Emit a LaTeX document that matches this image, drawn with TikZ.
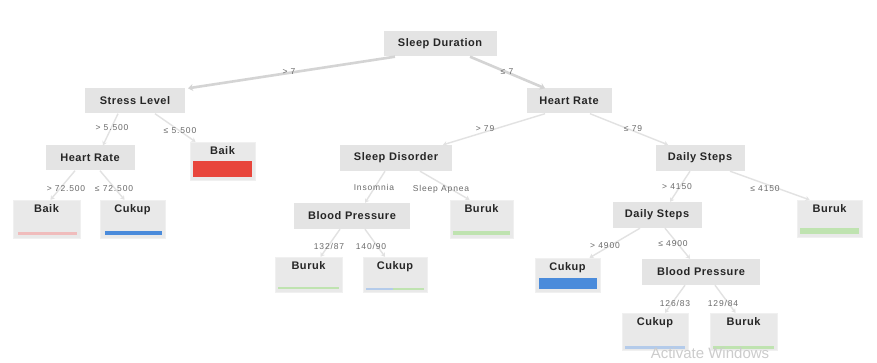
\documentclass[tikz,border=0pt]{standalone}
\usepackage{fontspec}
\setmainfont{Liberation Sans}
\newfontfamily\nodefont[LetterSpace=5]{Liberation Sans}
\newfontfamily\lblfont[LetterSpace=10]{Liberation Sans}
\usetikzlibrary{arrows.meta}
\definecolor{boxgray}{HTML}{E4E4E4}
\definecolor{leafgray}{HTML}{E9E9E9}
\definecolor{edgegray}{HTML}{D4D4D4}
\definecolor{thingray}{HTML}{E2E2E2}
\definecolor{lblgray}{HTML}{6A6A6A}
\definecolor{barred}{HTML}{E8463C}
\definecolor{barblue}{HTML}{4A8BDB}
\definecolor{barpink}{HTML}{F0BCBC}
\definecolor{bargreen}{HTML}{BFE3B0}
\definecolor{barlblue}{HTML}{B4CBEA}
\newcommand{\leafbar}[4]{%
  \fill[#2] ([xshift=#4pt,yshift=3pt]#1.south west) rectangle ([xshift=-3pt,yshift=#3]#1.south east);}
\begin{document}
\begin{tikzpicture}[x=1pt,y=-1pt,
  splitbox/.style={rectangle,fill=boxgray,inner sep=0pt,minimum height=25pt,
    font=\nodefont\bfseries\fontsize{11}{13}\selectfont,text=black!85},
  leafbox/.style={rectangle,fill=leafgray,draw=black!6,inner sep=0pt},
  leaftext/.style={font=\nodefont\bfseries\fontsize{11}{13}\selectfont,text=black!85,inner sep=0pt},
  edge/.style={draw=edgegray,line width=2.6pt,-{Stealth[length=5pt,width=7pt]}},
  thinedge/.style={draw=thingray,line width=1.4pt,-{Stealth[length=4pt,width=5pt]}},
  elabel/.style={font=\lblfont\fontsize{8.5}{10}\selectfont,text=lblgray,inner sep=1pt}]
\useasboundingbox (0,0) rectangle (877,363);
\fill[white] (0,0) rectangle (877,363);

% split nodes
\node[splitbox,minimum width=113pt] (sd) at (440,44) {Sleep Duration};
\node[splitbox,minimum width=100pt] (sl) at (135,101) {Stress Level};
\node[splitbox,minimum width=85pt] (hrr) at (569,101) {Heart Rate};
\node[splitbox,minimum width=89pt] (hrl) at (90,158) {Heart Rate};
\node[splitbox,minimum width=112pt,minimum height=26pt] (sdis) at (396,158) {Sleep Disorder};
\node[splitbox,minimum width=89pt,minimum height=26pt] (ds1) at (700,158) {Daily Steps};
\node[splitbox,minimum width=116pt,minimum height=26pt] (bp1) at (352,216) {Blood Pressure};
\node[splitbox,minimum width=89pt,minimum height=26pt] (ds2) at (657,215) {Daily Steps};
\node[splitbox,minimum width=118pt,minimum height=26pt] (bp2) at (701,272) {Blood Pressure};

% leaf nodes
\node[leafbox,minimum width=65pt,minimum height=38pt] (baikR) at (222.5,161) {};
\node[leafbox,minimum width=67pt,minimum height=38pt] (baikL) at (46.5,219) {};
\node[leafbox,minimum width=65pt,minimum height=38pt] (cukL) at (132.5,219) {};
\node[leafbox,minimum width=63pt,minimum height=38pt] (burSA) at (481.5,219) {};
\node[leafbox,minimum width=65pt,minimum height=37pt] (burFR) at (829.5,218.5) {};
\node[leafbox,minimum width=67pt,minimum height=35pt] (bur1) at (308.5,274.5) {};
\node[leafbox,minimum width=64pt,minimum height=35pt] (cuk1) at (395,274.5) {};
\node[leafbox,minimum width=65pt,minimum height=34pt] (cukB) at (567.5,275) {};
\node[leafbox,minimum width=66pt,minimum height=37pt] (cukBot) at (655,331.5) {};
\node[leafbox,minimum width=67pt,minimum height=37pt] (burBot) at (743.5,331.5) {};

\node[leaftext,anchor=north] (tbaikR) at ([yshift=-5pt]baikR.north) {Baik};
\node[leaftext,anchor=north] (tbaikL) at ([yshift=-5pt]baikL.north) {Baik};
\node[leaftext,anchor=north] (tcukL) at ([yshift=-5pt]cukL.north) {Cukup};
\node[leaftext,anchor=north] (tburSA) at ([yshift=-5pt]burSA.north) {Buruk};
\node[leaftext,anchor=north] (tburFR) at ([yshift=-5pt]burFR.north) {Buruk};
\node[leaftext,anchor=north] (tbur1) at ([yshift=-5pt]bur1.north) {Buruk};
\node[leaftext,anchor=north] (tcuk1) at ([yshift=-5pt]cuk1.north) {Cukup};
\node[leaftext,anchor=north] (tcukB) at ([yshift=-5pt]cukB.north) {Cukup};
\node[leaftext,anchor=north] (tcukBot) at ([yshift=-5pt]cukBot.north) {Cukup};
\node[leaftext,anchor=north] (tburBot) at ([yshift=-5pt]burBot.north) {Buruk};

% class bars
\leafbar{baikR}{barred}{19pt}{3}
\leafbar{baikL}{barpink}{6pt}{5}
\leafbar{cukL}{barblue}{7pt}{5}
\leafbar{burSA}{bargreen}{7pt}{3}
\leafbar{burFR}{bargreen}{9pt}{3}
\leafbar{bur1}{bargreen}{5pt}{3}
\fill[barlblue] ([xshift=3pt,yshift=2pt]cuk1.south west) rectangle ([xshift=30pt,yshift=4pt]cuk1.south west);
\fill[bargreen] ([xshift=30pt,yshift=2pt]cuk1.south west) rectangle ([xshift=-3pt,yshift=4pt]cuk1.south east);
\leafbar{cukB}{barblue}{14pt}{4}
\fill[barlblue] ([xshift=3pt,yshift=1pt]cukBot.south west) rectangle ([xshift=-3pt,yshift=4pt]cukBot.south east);
\fill[bargreen] ([xshift=3pt,yshift=1pt]burBot.south west) rectangle ([xshift=-3pt,yshift=4pt]burBot.south east);

% connectors
\draw[edge] ([xshift=-45pt]sd.south) -- ([xshift=53pt]sl.north);
\draw[edge] ([xshift=30pt]sd.south) -- ([xshift=-24pt]hrr.north);
\draw[thinedge] ([xshift=20pt]sl.south) -- ([xshift=-27pt]baikR.north);
\draw[thinedge] ([xshift=-17pt]sl.south) -- ([xshift=13pt]hrl.north);
\draw[thinedge] ([xshift=-24pt]hrr.south) -- ([xshift=47pt]sdis.north);
\draw[thinedge] ([xshift=21pt]hrr.south) -- ([xshift=-32pt]ds1.north);
\draw[thinedge] ([xshift=-15pt]hrl.south) -- ([xshift=4pt]baikL.north);
\draw[thinedge] ([xshift=10pt]hrl.south) -- ([xshift=-8pt]cukL.north);
\draw[thinedge] ([xshift=-11pt]sdis.south) -- ([xshift=13pt]bp1.north);
\draw[thinedge] ([xshift=24pt]sdis.south) -- ([xshift=-12pt]burSA.north);
\draw[thinedge] ([xshift=-12pt]bp1.south) -- ([xshift=12pt]bur1.north);
\draw[thinedge] ([xshift=13pt]bp1.south) -- ([xshift=-10pt]cuk1.north);
\draw[thinedge] ([xshift=-10pt]ds1.south) -- ([xshift=13pt]ds2.north);
\draw[thinedge] ([xshift=30pt]ds1.south) -- ([xshift=-20pt]burFR.north);
\draw[thinedge] ([xshift=-17pt]ds2.south) -- ([xshift=22pt]cukB.north);
\draw[thinedge] ([xshift=8pt]ds2.south) -- ([xshift=-11pt]bp2.north);
\draw[thinedge] ([xshift=-16pt]bp2.south) -- ([xshift=10pt]cukBot.north);
\draw[thinedge] ([xshift=14pt]bp2.south) -- ([xshift=-8pt]burBot.north);

% edge labels
\node[elabel] (l1) at (289,72) {> 7};
\node[elabel] (l2) at (507,72) {≤ 7};
\node[elabel] (l3) at (112,128) {> 5.500};
\node[elabel] (l4) at (180,131) {≤ 5.500};
\node[elabel] (l5) at (485,129) {> 79};
\node[elabel] (l6) at (633,129) {≤ 79};
\node[elabel] (l7) at (66,189) {> 72.500};
\node[elabel] (l8) at (114,189) {≤ 72.500};
\node[elabel] (l9) at (374,187) {Insomnia};
\node[elabel] (l10) at (441,189) {Sleep Apnea};
\node[elabel] (l11) at (329,246) {132/87};
\node[elabel] (l12) at (371,246) {140/90};
\node[elabel] (l13) at (677,187) {> 4150};
\node[elabel] (l14) at (765,189) {≤ 4150};
\node[elabel] (l15) at (605,246) {> 4900};
\node[elabel] (l16) at (673,244) {≤ 4900};
\node[elabel] (l17) at (675,303) {126/83};
\node[elabel] (l18) at (723,303) {129/84};

% watermark
\node[font=\fontsize{15}{17}\selectfont,text=black!20,inner sep=0pt] (wm) at (710,353) {Activate Windows};
\end{tikzpicture}
\end{document}
